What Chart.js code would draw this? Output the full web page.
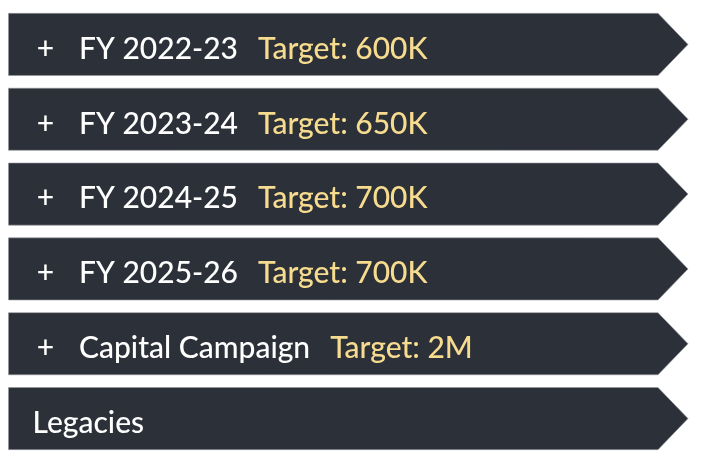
<!DOCTYPE html>
<html>
<head>
<meta charset="utf-8">
<script src="https://cdn.jsdelivr.net/npm/chart.js@4"></script>
<style>
	body { margin: 0; background: #ffffff; }
	#wrap { width: 701px; height: 462px; }
</style>
</head>
<body>
<div id="wrap"><canvas id="stages"></canvas></div>
<script>
// one banner per row
const stageNames = ['FY 2022-23', 'FY 2023-24', 'FY 2024-25', 'FY 2025-26', 'Capital Campaign', 'Legacies'];
const stageTargets = ['Target: 600K', 'Target: 650K', 'Target: 700K', 'Target: 700K', 'Target: 2M', ''];
const stageExpandable = [true, true, true, true, true, false];
const stageLength = [1, 1, 1, 1, 1, 1];

const bannerColor = '#2c3038';
const targetColor = '#f7dc8f';
const fontSize = 30;

// draws each bar as an arrow banner with its texts
const bannerPlugin = {
	id: 'banners',
	afterDatasetsDraw(chart) {
		var ctx = chart.ctx;
		var meta = chart.getDatasetMeta(0);
		meta.data.forEach(function (bar, i) {
			var left = bar.base;
			var right = bar.x;
			var half = bar.height / 2;
			var tip = 30;
			ctx.save();
			ctx.beginPath();
			ctx.moveTo(left, bar.y - half);
			ctx.lineTo(right - tip, bar.y - half);
			ctx.lineTo(right, bar.y);
			ctx.lineTo(right - tip, bar.y + half);
			ctx.lineTo(left, bar.y + half);
			ctx.closePath();
			ctx.fillStyle = bannerColor;
			ctx.fill();
			ctx.strokeStyle = 'rgba(150,150,155,0.6)';
			ctx.lineWidth = 1;
			ctx.stroke();

			ctx.font = '500 ' + fontSize + 'px Lato';
			ctx.textBaseline = 'alphabetic';
			ctx.textAlign = 'left';
			var baseY = bar.y + fontSize * 0.48;
			var x = left + 24;
			if (stageExpandable[i]) {
				ctx.fillStyle = '#ffffff';
				ctx.textAlign = 'center';
				ctx.fillText('+', left + 37, baseY);
				ctx.textAlign = 'left';
				x = left + 70.5;
			}
			ctx.fillStyle = '#ffffff';
			ctx.fillText(stageNames[i], x, baseY);
			if (stageTargets[i]) {
				x += ctx.measureText(stageNames[i]).width + 20;
				ctx.fillStyle = targetColor;
				ctx.fillText(stageTargets[i], x, baseY);
			}
			ctx.restore();
		});
	}
};

const chart = new Chart(document.getElementById('stages'), {
	type: 'bar',
	data: {
		labels: stageNames,
		datasets: [{
			data: stageLength,
			backgroundColor: 'rgba(0,0,0,0)',
			borderWidth: 0,
			barPercentage: 0.83,
			categoryPercentage: 1
		}]
	},
	options: {
		indexAxis: 'y',
		responsive: true,
		maintainAspectRatio: false,
		animation: false,
		layout: { padding: { left: 8.5, right: 13, top: 7, bottom: 6 } },
		plugins: {
			legend: { display: false },
			tooltip: { enabled: false }
		},
		scales: {
			x: { display: false, min: 0, max: 1 },
			y: { display: false }
		}
	},
	plugins: [bannerPlugin]
});
</script>
</body>
</html>
